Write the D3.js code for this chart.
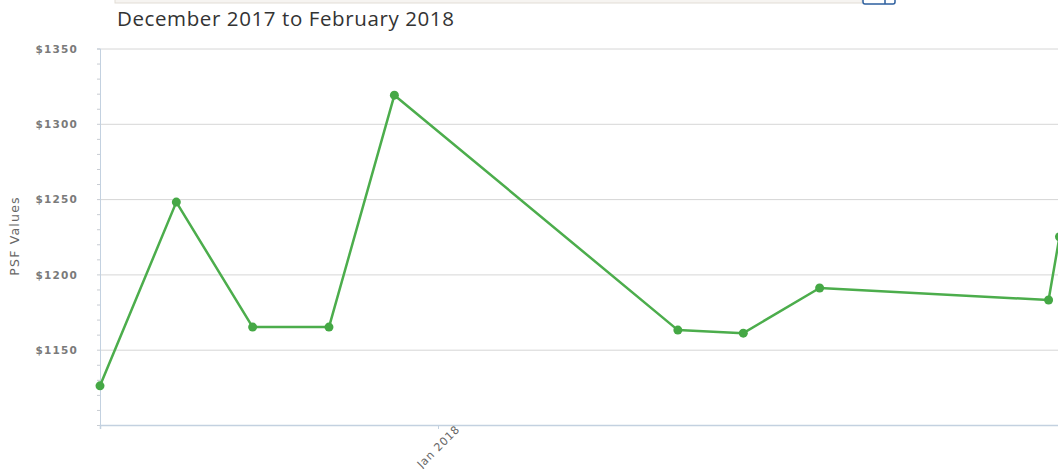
<!DOCTYPE html>
<html>
<head>
<meta charset="utf-8">
<script src="https://cdn.jsdelivr.net/npm/d3@7"></script>
<style>
  body { margin: 0; background: #fff; overflow: hidden; }
  svg { display: block; }
</style>
</head>
<body>
<div id="chart"></div>
<script>
var width = 1058;
var height = 469;

// data
var dates = ["2017-12-01", "2017-12-08", "2017-12-15", "2017-12-22", "2017-12-28",
             "2018-01-23", "2018-01-29", "2018-02-05", "2018-02-26", "2018-02-27"];
var psf = [1126, 1248, 1165, 1165, 1319, 1163, 1161, 1191, 1183, 1225];
var yTicks = [1150, 1200, 1250, 1300, 1350];
var xTicks = ["2018-01-01"];
var title = "December 2017 to February 2018";
var yTitle = "PSF Values";

var parse = d3.timeParse("%Y-%m-%d");

var svg = d3.select("#chart")
    .append("svg")
    .attr("width", width)
    .attr("height", height);

// bits of the panel above that peek in at the top
svg.append("rect")
    .attr("x", 115).attr("y", -10)
    .attr("width", 747).attr("height", 13)
    .attr("fill", "#f6f4f1")
    .attr("stroke", "#e2ddd5");
svg.append("rect")
    .attr("x", 863).attr("y", -8)
    .attr("width", 32).attr("height", 12)
    .attr("rx", 2)
    .attr("fill", "#fff")
    .attr("stroke", "#2d5f9e")
    .attr("stroke-width", 1.5);
svg.append("line")
    .attr("x1", 885).attr("x2", 885).attr("y1", -8).attr("y2", 4)
    .attr("stroke", "#2d5f9e").attr("stroke-width", 1.5);

svg.append("text")
    .attr("x", 117)
    .attr("y", 26)
    .attr("font-family", "Open Sans, sans-serif")
    .attr("font-size", 20.5)
    .attr("letter-spacing", 0.6)
    .attr("fill", "#333")
    .text(title);

var x = d3.scaleTime()
    .domain([parse("2017-12-01"), parse("2018-02-28")])
    .range([100, 1070.4]);

var y = d3.scaleLinear()
    .domain([1100, 1350])
    .range([425, 48.5]);

// grid
var grid = svg.append("g")
    .attr("transform", "translate(100,0)")
    .call(d3.axisLeft(y).tickValues(yTicks).tickSize(-(width - 100)).tickFormat(""));
grid.select(".domain").remove();
grid.selectAll("line").attr("stroke", "#d6d6d6");

// minor ticks
var minor = svg.append("g")
    .attr("transform", "translate(100,0)")
    .call(d3.axisLeft(y).tickValues(d3.range(1100, 1351, 10)).tickSize(3).tickFormat(""));
minor.select(".domain").attr("stroke", "#c3d1e0");
minor.selectAll("line").attr("stroke", "#c8ccd2");

// y labels
var yAxis = svg.append("g")
    .attr("transform", "translate(81,0)")
    .call(d3.axisLeft(y).tickValues(yTicks).tickSize(0).tickFormat(function(d) { return "$" + d; }));
yAxis.select(".domain").remove();
yAxis.selectAll("text")
    .attr("font-family", "DejaVu Sans, sans-serif")
    .attr("font-size", 10.5)
    .attr("font-weight", "bold")
    .attr("letter-spacing", 1.2)
    .attr("fill", "#7a7a7a")
    .attr("dy", "0.35em");

svg.append("text")
    .attr("transform", "translate(19,236) rotate(-90)")
    .attr("text-anchor", "middle")
    .attr("font-family", "DejaVu Sans, sans-serif")
    .attr("font-size", 12.5)
    .attr("letter-spacing", 1.2)
    .attr("fill", "#666")
    .text(yTitle);

// x axis
var xAxis = svg.append("g")
    .attr("transform", "translate(0,425)")
    .call(d3.axisBottom(x).tickValues(xTicks.map(parse)).tickSize(4)
        .tickFormat(d3.timeFormat("%b %Y")));
xAxis.select(".domain").attr("stroke", "#c3d1e0").attr("stroke-width", 1.5);
xAxis.selectAll("line").attr("stroke", "#c3d1e0");
xAxis.selectAll("text")
    .attr("font-family", "DejaVu Sans, sans-serif")
    .attr("font-size", 11)
    .attr("letter-spacing", 0.8)
    .attr("fill", "#666")
    .attr("text-anchor", "end")
    .attr("y", 0)
    .attr("dy", 0)
    .attr("transform", "translate(22,5) rotate(-45)");

var series = dates.map(function(d, i) { return { date: parse(d), value: psf[i] }; });

var line = d3.line()
    .x(function(d) { return x(d.date); })
    .y(function(d) { return y(d.value); });

svg.append("path")
    .datum(series)
    .attr("d", line)
    .attr("fill", "none")
    .attr("stroke", "#4cad4c")
    .attr("stroke-width", 2.5)
    .attr("stroke-linejoin", "round");

svg.selectAll(".dot")
    .data(series)
    .enter().append("circle")
    .attr("class", "dot")
    .attr("cx", function(d) { return x(d.date); })
    .attr("cy", function(d) { return y(d.value); })
    .attr("r", 4.5)
    .attr("fill", "#45a845");
</script>
</body>
</html>
